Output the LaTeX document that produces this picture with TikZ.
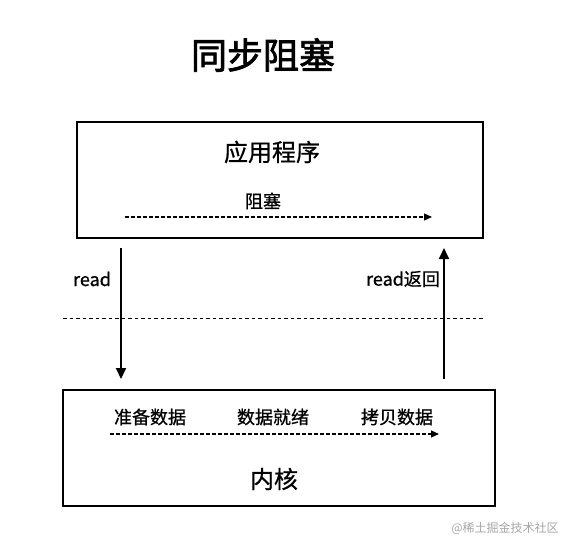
\documentclass[tikz,border=0pt]{standalone}
\usepackage{fontspec}
\newfontfamily\cjk{Noto Sans CJK SC}
\newfontfamily\cjkm[FakeBold=0.8]{Noto Sans CJK SC}
\newfontfamily\cjkt[FakeBold=2.2]{Noto Sans CJK SC}
\usepackage{tikz}
\usetikzlibrary{positioning,arrows.meta,calc}

\begin{document}
\begin{tikzpicture}[x=1pt, y=-1pt,
    layer/.style={draw, line width=2.2pt, inner sep=0pt},
    word/.style={font=\cjkm, inner sep=0pt},
    flow/.style={-{Triangle[length=11pt, width=10pt]}, line width=1.8pt},
    wait/.style={-{Triangle[length=8pt, width=7pt]}, line width=1.1pt, dash pattern=on 3.5pt off 2.5pt},
]
  \useasboundingbox (0,0) rectangle (575,551);

  \node[word, font=\cjkt\fontsize{36}{36}\selectfont] (title) at (263,55) {同步阻塞};

  % user side and kernel side
  \node[layer, minimum width=406pt, minimum height=116pt] (app) at (280,180) {};
  \node[layer, minimum width=432pt, minimum height=116pt] (kern) at (279,448) {};

  \node[word, font=\cjkm\fontsize{24}{24}\selectfont] (appname) at (272,152) {应用程序};
  \node[word, font=\cjkm\fontsize{18}{18}\selectfont] (block) at (263,201) {阻塞};
  \coordinate (blk1) at (125,217);
  \coordinate (blk2) at (432,217);
  \draw[wait] (blk1) -- (blk2);

  \node[word, font=\cjkm\fontsize{18}{18}\selectfont] (prep) at (150,417) {准备数据};
  \node[word, font=\cjkm\fontsize{18}{18}\selectfont] (ready) at (273,417) {数据就绪};
  \node[word, font=\cjkm\fontsize{18}{18}\selectfont] (copy) at (397,417) {拷贝数据};
  \coordinate (k1) at (110,434);
  \coordinate (k2) at (439,434);
  \draw[wait] (k1) -- (k2);
  \node[word, font=\cjkm\fontsize{24}{24}\selectfont] (kname) at (274,479) {内核};

  % call and return
  \coordinate (rd1) at (121,248);
  \coordinate (rd2) at (121,379);
  \coordinate (rt1) at (444,379);
  \coordinate (rt2) at (444,248);
  \draw[flow] (rd1) -- (rd2);
  \draw[flow] (rt1) -- (rt2);
  \node[word, font=\cjkm\fontsize{18}{18}\selectfont] (rdlbl) at (92,279) {read};
  \node[word, font=\cjkm\fontsize{18}{18}\selectfont] (rtlbl) at (403,279) {read返回};

  \coordinate (sep1) at (63,318);
  \coordinate (sep2) at (483,318);
  \draw[line width=1pt, dash pattern=on 3.5pt off 3pt] (sep1) -- (sep2);

  \node[word, font=\cjk\fontsize{12}{12}\selectfont, text=black!35] (mark) at (505,528) {@稀土掘金技术社区};
\end{tikzpicture}
\end{document}
